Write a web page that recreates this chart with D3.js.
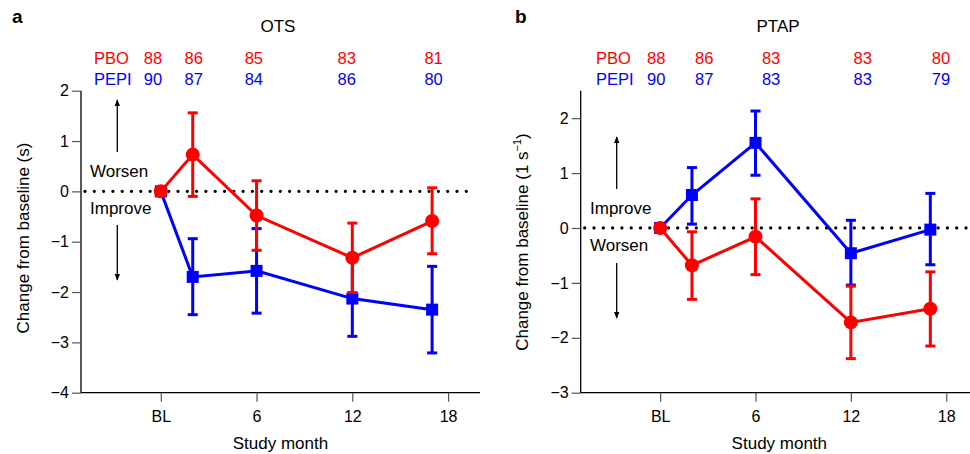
<!DOCTYPE html>
<html>
<head>
<meta charset="utf-8">
<script src="https://cdn.jsdelivr.net/npm/d3@7"></script>
<style>
  body { margin: 0; background: #fff; }
  svg { font-family: "Liberation Sans", Arial, Helvetica, sans-serif; }
</style>
</head>
<body>
<div id="chart"></div>
<script>
// Study visits (months) and axis ticks
const months = [0, 2, 6, 12, 17];
const xTickValues = [0, 6, 12, 18];
const xTickLabels = ['BL', '6', '12', '18'];

// OTS panel
const otsPboMean = [0, 0.73, -0.48, -1.32, -0.59];
const otsPboLow = [null, -0.10, -1.17, -2.01, -1.24];
const otsPboHigh = [null, 1.56, 0.21, -0.63, 0.07];
const otsPepiMean = [0, -1.70, -1.58, -2.13, -2.35];
const otsPepiLow = [null, -2.45, -2.42, -2.88, -3.21];
const otsPepiHigh = [null, -0.94, -0.74, -1.38, -1.49];
const otsPboN = [88, 86, 85, 83, 81];
const otsPepiN = [90, 87, 84, 86, 80];
const otsYTicks = [-4, -3, -2, -1, 0, 1, 2];

// PTAP panel
const ptapPboMean = [0, -0.68, -0.16, -1.72, -1.47];
const ptapPboLow = [null, -1.30, -0.85, -2.38, -2.15];
const ptapPboHigh = [null, -0.07, 0.53, -1.06, -0.80];
const ptapPepiMean = [0, 0.60, 1.55, -0.46, -0.03];
const ptapPepiLow = [null, 0.07, 0.96, -1.04, -0.67];
const ptapPepiHigh = [null, 1.10, 2.13, 0.14, 0.63];
const ptapPboN = [88, 86, 83, 83, 80];
const ptapPepiN = [90, 87, 83, 83, 79];
const ptapYTicks = [-3, -2, -1, 0, 1, 2];

const RED = '#ff0000';
const BLUE = '#0000ff';

const width = 970;
const height = 454;

const svg = d3.select('#chart')
  .append('svg')
  .attr('width', width)
  .attr('height', height);

// arrowhead marker
svg.append('defs')
  .append('marker')
  .attr('id', 'arrow')
  .attr('viewBox', '0 0 10 10')
  .attr('refX', 9)
  .attr('refY', 5)
  .attr('markerWidth', 7)
  .attr('markerHeight', 7)
  .attr('markerUnits', 'userSpaceOnUse')
  .attr('orient', 'auto')
  .append('path')
  .attr('d', 'M0,1 L10,5 L0,9 Z')
  .attr('fill', '#000');

function drawPanel(p) {
  const g = svg.append('g');

  const x = d3.scaleLinear().domain([-5, 20]).range(p.xRange);
  const y = d3.scaleLinear().domain(p.yDomain).range([392.7, 90.7]);

  // panel letter and title
  g.append('text')
    .attr('x', p.letterX).attr('y', 23)
    .attr('font-size', 19).attr('font-weight', 'bold')
    .text(p.letter);
  g.append('text')
    .attr('x', p.titleX).attr('y', 31.5)
    .attr('text-anchor', 'middle')
    .attr('font-size', 17)
    .text(p.title);

  // sample sizes
  const rows = [
    { name: 'PBO', n: p.pboN, color: RED, yy: 64 },
    { name: 'PEPI', n: p.pepiN, color: BLUE, yy: 85 }
  ];
  rows.forEach((r) => {
    g.append('text')
      .attr('x', p.nameX).attr('y', r.yy)
      .attr('font-size', 16.5).attr('fill', r.color)
      .text(r.name);
    g.selectAll(null)
      .data(r.n)
      .enter()
      .append('text')
      .attr('x', (d, i) => x(p.nPos[i]))
      .attr('y', r.yy)
      .attr('text-anchor', 'middle')
      .attr('font-size', 16.5)
      .attr('fill', r.color)
      .text((d) => d);
  });

  // axes
  const yAxis = d3.axisLeft(y)
    .tickValues(p.yTicks)
    .tickSize(9)
    .tickPadding(3)
    .tickFormat((d) => (d < 0 ? '\u2212' + Math.abs(d) : d));
  const ya = g.append('g')
    .attr('transform', `translate(${p.xRange[0]},0)`)
    .call(yAxis);

  const xAxis = d3.axisBottom(x)
    .tickValues(xTickValues)
    .tickSize(9)
    .tickPadding(8.5)
    .tickFormat((d, i) => xTickLabels[i]);
  const xa = g.append('g')
    .attr('transform', `translate(0,392.7)`)
    .call(xAxis);

  [ya, xa].forEach((a) => {
    a.select('.domain').attr('stroke', '#000').attr('stroke-width', 1.3);
    a.selectAll('.tick line').attr('stroke', '#555').attr('stroke-width', 1.2);
    a.selectAll('.tick text').attr('font-size', 16).attr('fill', '#000');
  });
  ya.select('.domain').attr('d', `M0,${y.range()[1]}V${y.range()[0]}`);
  xa.select('.domain').attr('d', `M${p.xRange[0]},0H${p.xRange[1]}`);

  g.append('text')
    .attr('x', x(7.5)).attr('y', 449)
    .attr('text-anchor', 'middle')
    .attr('font-size', 17)
    .text('Study month');

  const yl = g.append('text')
    .attr('transform', `translate(${p.yLabelX},${p.yLabelY}) rotate(-90)`)
    .attr('text-anchor', 'middle')
    .attr('font-size', 17);
  if (p.superscript) {
    yl.append('tspan').text('Change from baseline (1 s');
    yl.append('tspan').attr('dy', -7).attr('font-size', 11).text('\u22121');
    yl.append('tspan').attr('dy', 7).text(')');
  } else {
    yl.text('Change from baseline (s)');
  }

  // zero reference line
  g.append('line')
    .attr('x1', p.xRange[0] + 4).attr('x2', p.dotEnd)
    .attr('y1', y(0)).attr('y2', y(0))
    .attr('stroke', '#000')
    .attr('stroke-width', 3.3)
    .attr('stroke-linecap', 'round')
    .attr('stroke-dasharray', '0 9.3');

  // direction annotations
  g.append('text')
    .attr('x', p.noteX).attr('y', p.upperTextY)
    .attr('font-size', 17)
    .text(p.upperText);
  g.append('text')
    .attr('x', p.noteX).attr('y', p.lowerTextY)
    .attr('font-size', 17)
    .text(p.lowerText);
  g.append('line')
    .attr('x1', p.arrowX).attr('x2', p.arrowX)
    .attr('y1', p.upArrow[1]).attr('y2', p.upArrow[0])
    .attr('stroke', '#000').attr('stroke-width', 1.3)
    .attr('marker-end', 'url(#arrow)');
  g.append('line')
    .attr('x1', p.arrowX).attr('x2', p.arrowX)
    .attr('y1', p.downArrow[0]).attr('y2', p.downArrow[1])
    .attr('stroke', '#000').attr('stroke-width', 1.3)
    .attr('marker-end', 'url(#arrow)');

  // series: PEPI first, PBO on top
  const series = [
    { mean: p.pepiMean, low: p.pepiLow, high: p.pepiHigh, color: BLUE, shape: 'square' },
    { mean: p.pboMean, low: p.pboLow, high: p.pboHigh, color: RED, shape: 'circle' }
  ];

  series.forEach((s) => {
    const pts = months.map((m, i) => ({ m, v: s.mean[i], lo: s.low[i], hi: s.high[i] }));
    const sg = g.append('g');

    sg.append('path')
      .datum(pts)
      .attr('fill', 'none')
      .attr('stroke', s.color)
      .attr('stroke-width', 3)
      .attr('d', d3.line().x((d) => x(d.m)).y((d) => y(d.v)));

    const eb = sg.selectAll('.eb')
      .data(pts.filter((d) => d.lo !== null))
      .enter()
      .append('g')
      .attr('stroke', s.color)
      .attr('stroke-width', 3);
    eb.append('line')
      .attr('x1', (d) => x(d.m)).attr('x2', (d) => x(d.m))
      .attr('y1', (d) => y(d.lo)).attr('y2', (d) => y(d.hi));
    eb.append('line')
      .attr('x1', (d) => x(d.m) - 5).attr('x2', (d) => x(d.m) + 5)
      .attr('y1', (d) => y(d.lo)).attr('y2', (d) => y(d.lo));
    eb.append('line')
      .attr('x1', (d) => x(d.m) - 5).attr('x2', (d) => x(d.m) + 5)
      .attr('y1', (d) => y(d.hi)).attr('y2', (d) => y(d.hi));

    if (s.shape === 'circle') {
      sg.selectAll('circle')
        .data(pts)
        .enter()
        .append('circle')
        .attr('cx', (d) => x(d.m))
        .attr('cy', (d) => y(d.v))
        .attr('r', 7)
        .attr('fill', s.color);
    } else {
      sg.selectAll('rect')
        .data(pts)
        .enter()
        .append('rect')
        .attr('x', (d) => x(d.m) - 6)
        .attr('y', (d) => y(d.v) - 6)
        .attr('width', 12)
        .attr('height', 12)
        .attr('fill', s.color);
    }
  });
}

drawPanel({
  letter: 'a', letterX: 12, title: 'OTS', titleX: 278,
  xRange: [81, 480], yDomain: [-4, 2], yTicks: otsYTicks,
  nameX: 94, nPos: [-0.49, 2.06, 5.83, 11.65, 17.09],
  pboN: otsPboN, pepiN: otsPepiN,
  pboMean: otsPboMean, pboLow: otsPboLow, pboHigh: otsPboHigh,
  pepiMean: otsPepiMean, pepiLow: otsPepiLow, pepiHigh: otsPepiHigh,
  yLabelX: 29, yLabelY: 238, superscript: false,
  dotEnd: 473,
  noteX: 90, upperText: 'Worsen', upperTextY: 176.5, lowerText: 'Improve', lowerTextY: 214,
  arrowX: 117.3, upArrow: [100, 152], downArrow: [225, 280]
});

drawPanel({
  letter: 'b', letterX: 515, title: 'PTAP', titleX: 778,
  xRange: [580.7, 978], yDomain: [-3, 2.5], yTicks: ptapYTicks,
  nameX: 596, nPos: [-0.25, 2.77, 6.98, 12.75, 17.67],
  pboN: ptapPboN, pepiN: ptapPepiN,
  pboMean: ptapPboMean, pboLow: ptapPboLow, pboHigh: ptapPboHigh,
  pepiMean: ptapPepiMean, pepiLow: ptapPepiLow, pepiHigh: ptapPepiHigh,
  yLabelX: 528, yLabelY: 242, superscript: true,
  dotEnd: 968,
  noteX: 590, upperText: 'Improve', upperTextY: 214, lowerText: 'Worsen', lowerTextY: 251,
  arrowX: 616.7, upArrow: [137, 189], downArrow: [263, 318]
});
</script>
</body>
</html>
